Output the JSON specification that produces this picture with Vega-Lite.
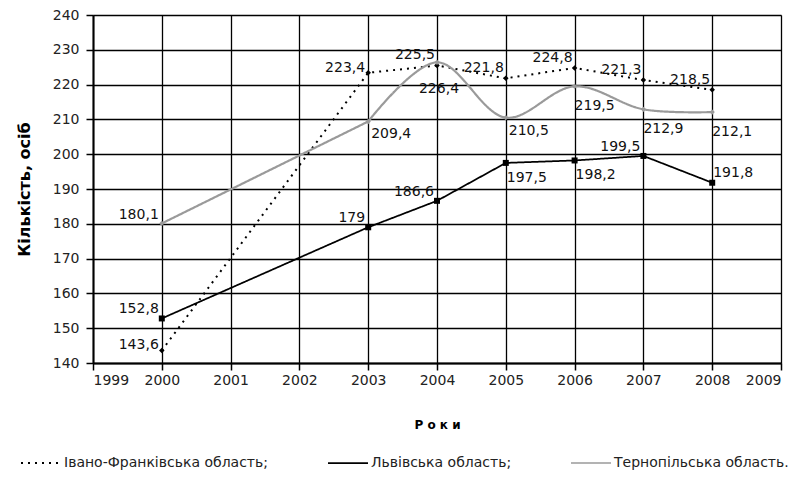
{
  "$schema": "https://vega.github.io/schema/vega-lite/v6.json",
  "autosize": "none",
  "width": 688,
  "height": 348,
  "padding": {"left": 93, "top": 15, "right": 25, "bottom": 114},
  "background": "white",
  "config": {
    "locale": {"number": {"decimal": ",", "thousands": " ", "grouping": [3], "currency": ["", ""]}},
    "view": {"stroke": "#999999", "strokeWidth": 1},
    "font": "DejaVu Sans"
  },
  "data": {
    "values": [
      {"year": 2000, "series": "Івано-Франківська область", "value": 143.6},
      {"year": 2003, "series": "Івано-Франківська область", "value": 223.4},
      {"year": 2004, "series": "Івано-Франківська область", "value": 225.5},
      {"year": 2005, "series": "Івано-Франківська область", "value": 221.8},
      {"year": 2006, "series": "Івано-Франківська область", "value": 224.8},
      {"year": 2007, "series": "Івано-Франківська область", "value": 221.3},
      {"year": 2008, "series": "Івано-Франківська область", "value": 218.5},
      {"year": 2000, "series": "Львівська область", "value": 152.8},
      {"year": 2003, "series": "Львівська область", "value": 179},
      {"year": 2004, "series": "Львівська область", "value": 186.6},
      {"year": 2005, "series": "Львівська область", "value": 197.5},
      {"year": 2006, "series": "Львівська область", "value": 198.2},
      {"year": 2007, "series": "Львівська область", "value": 199.5},
      {"year": 2008, "series": "Львівська область", "value": 191.8},
      {"year": 2000, "series": "Тернопільська область", "value": 180.1},
      {"year": 2003, "series": "Тернопільська область", "value": 209.4},
      {"year": 2004, "series": "Тернопільська область", "value": 226.4},
      {"year": 2005, "series": "Тернопільська область", "value": 210.5},
      {"year": 2006, "series": "Тернопільська область", "value": 219.5},
      {"year": 2007, "series": "Тернопільська область", "value": 212.9},
      {"year": 2008, "series": "Тернопільська область", "value": 212.1}
    ]
  },
  "encoding": {
    "x": {
      "field": "year", "type": "quantitative",
      "scale": {"domain": [1999, 2009], "nice": false, "zero": false},
      "axis": {
        "values": [1999, 2000, 2001, 2002, 2003, 2004, 2005, 2006, 2007, 2008, 2009],
        "format": "d", "title": "Р о к и",
        "titleFont": "DejaVu Sans", "titleFontSize": 12, "titleFontWeight": "bold", "titleColor": "black",
        "titlePadding": 32,
        "labelFont": "DejaVu Sans", "labelFontSize": 14, "labelColor": "#222", "labelPadding": 3,
        "tickSize": 7, "tickColor": "black", "tickWidth": 1.5,
        "domainColor": "black", "domainWidth": 2,
        "grid": true, "gridColor": "black", "gridWidth": 1.3, "gridOpacity": 1
      }
    },
    "y": {
      "field": "value", "type": "quantitative",
      "scale": {"domain": [140, 240], "nice": false, "zero": false},
      "axis": {
        "values": [140, 150, 160, 170, 180, 190, 200, 210, 220, 230, 240],
        "title": "Кількість, осіб",
        "titleFont": "DejaVu Sans", "titleFontSize": 16, "titleFontWeight": "bold", "titleColor": "black",
        "titlePadding": 20,
        "labelFont": "DejaVu Sans", "labelFontSize": 14, "labelColor": "#222", "labelPadding": 7,
        "tickSize": 7, "tickColor": "black", "tickWidth": 1.5,
        "domainColor": "black", "domainWidth": 2,
        "grid": true, "gridColor": "black", "gridWidth": 1.3, "gridOpacity": 1
      }
    }
  },
  "layer": [
    {
      "mark": {"type": "line", "interpolate": "linear"},
      "transform": [{"filter": "datum.series != 'Тернопільська область'"}],
      "encoding": {
        "color": {
          "field": "series", "type": "nominal",
          "scale": {"domain": ["Івано-Франківська область", "Львівська область", "Тернопільська область"], "range": ["#000000", "#000000", "#9a9a9a"]},
          "legend": {
            "title": null, "orient": "none", "direction": "horizontal", "columns": 3,
            "legendX": -73, "legendY": 427,
            "symbolType": "stroke", "symbolSize": 1600, "symbolStrokeWidth": 2,
            "labelFont": "DejaVu Sans", "labelFontSize": 14, "labelColor": "#222", "labelOffset": 2,
            "columnPadding": 56, "labelLimit": 400,
            "labelExpr": "datum.label + (datum.label == 'Тернопільська область' ? '.' : ';')"
          }
        },
        "strokeDash": {
          "field": "series", "type": "nominal",
          "scale": {"domain": ["Івано-Франківська область", "Львівська область", "Тернопільська область"], "range": [[2, 5], [1, 0], [1, 0]]},
          "legend": {
            "title": null, "orient": "none", "direction": "horizontal", "columns": 3,
            "legendX": -73, "legendY": 427,
            "symbolType": "stroke", "symbolSize": 1600, "symbolStrokeWidth": 2,
            "labelFont": "DejaVu Sans", "labelFontSize": 14, "labelColor": "#222", "labelOffset": 2,
            "columnPadding": 56, "labelLimit": 400,
            "labelExpr": "datum.label + (datum.label == 'Тернопільська область' ? '.' : ';')"
          }
        },
        "strokeWidth": {
          "field": "series", "type": "nominal",
          "scale": {"domain": ["Івано-Франківська область", "Львівська область", "Тернопільська область"], "range": [2, 1.5, 2.2]},
          "legend": null
        }
      }
    },
    {
      "mark": {"type": "line", "interpolate": "linear", "strokeWidth": 2.2},
      "transform": [{"filter": "datum.series == 'Тернопільська область' && datum.year <= 2003"}],
      "encoding": {
        "color": {"field": "series", "type": "nominal"},
        "strokeDash": {"field": "series", "type": "nominal"}
      }
    },
    {
      "mark": {"type": "line", "interpolate": "catmull-rom", "strokeWidth": 2.2},
      "transform": [{"filter": "datum.series == 'Тернопільська область' && datum.year >= 2003"}],
      "encoding": {
        "color": {"field": "series", "type": "nominal"},
        "strokeDash": {"field": "series", "type": "nominal"}
      }
    },
    {
      "mark": {"type": "point", "shape": "diamond", "filled": true, "opacity": 1, "strokeWidth": 0, "size": 30, "color": "#000000"},
      "transform": [{"filter": "datum.series == 'Івано-Франківська область'"}]
    },
    {
      "mark": {"type": "point", "shape": "square", "filled": true, "opacity": 1, "strokeWidth": 0, "size": 36, "color": "#000000"},
      "transform": [{"filter": "datum.series == 'Львівська область'"}]
    },
    {
      "mark": {"type": "point", "shape": "diamond", "filled": true, "opacity": 1, "strokeWidth": 0, "size": 28, "color": "#9a9a9a"},
      "transform": [{"filter": "datum.series == 'Тернопільська область'"}]
    },
    {
      "mark": {"type": "text", "font": "DejaVu Sans", "fontSize": 14, "color": "#111", "align": "right", "baseline": "middle", "dx": -3, "dy": -5},
      "transform": [{"filter": "datum.series == 'Івано-Франківська область' && (datum.year == 2000 || datum.year == 2003)"}],
      "encoding": {"text": {"field": "value", "type": "quantitative", "format": "~r"}}
    },
    {
      "mark": {"type": "text", "font": "DejaVu Sans", "fontSize": 14, "color": "#111", "align": "right", "baseline": "middle", "dx": -2, "dy": -10},
      "transform": [{"filter": "datum.series == 'Івано-Франківська область' && datum.year > 2003"}],
      "encoding": {"text": {"field": "value", "type": "quantitative", "format": "~r"}}
    },
    {
      "mark": {"type": "text", "font": "DejaVu Sans", "fontSize": 14, "color": "#111", "align": "right", "baseline": "middle", "dx": -3, "dy": -9},
      "transform": [{"filter": "datum.series == 'Львівська область' && (datum.year == 2000 || datum.year == 2003 || datum.year == 2004 || datum.year == 2007)"}],
      "encoding": {"text": {"field": "value", "type": "quantitative", "format": "~r"}}
    },
    {
      "mark": {"type": "text", "font": "DejaVu Sans", "fontSize": 14, "color": "#111", "align": "left", "baseline": "middle", "dx": 1, "dy": 15},
      "transform": [{"filter": "datum.series == 'Львівська область' && (datum.year == 2005 || datum.year == 2006)"}],
      "encoding": {"text": {"field": "value", "type": "quantitative", "format": "~r"}}
    },
    {
      "mark": {"type": "text", "font": "DejaVu Sans", "fontSize": 14, "color": "#111", "align": "left", "baseline": "middle", "dx": 1, "dy": -10},
      "transform": [{"filter": "datum.series == 'Львівська область' && datum.year == 2008"}],
      "encoding": {"text": {"field": "value", "type": "quantitative", "format": "~r"}}
    },
    {
      "mark": {"type": "text", "font": "DejaVu Sans", "fontSize": 14, "color": "#111", "align": "right", "baseline": "middle", "dx": -3, "dy": -8},
      "transform": [{"filter": "datum.series == 'Тернопільська область' && datum.year == 2000"}],
      "encoding": {"text": {"field": "value", "type": "quantitative", "format": "~r"}}
    },
    {
      "mark": {"type": "text", "font": "DejaVu Sans", "fontSize": 14, "color": "#111", "align": "left", "baseline": "middle", "dx": 3, "dy": 13},
      "transform": [{"filter": "datum.series == 'Тернопільська область' && (datum.year == 2003 || datum.year == 2005)"}],
      "encoding": {"text": {"field": "value", "type": "quantitative", "format": "~r"}}
    },
    {
      "mark": {"type": "text", "font": "DejaVu Sans", "fontSize": 14, "color": "#111", "align": "center", "baseline": "middle", "dx": 2, "dy": 27},
      "transform": [{"filter": "datum.series == 'Тернопільська область' && datum.year == 2004"}],
      "encoding": {"text": {"field": "value", "type": "quantitative", "format": "~r"}}
    },
    {
      "mark": {"type": "text", "font": "DejaVu Sans", "fontSize": 14, "color": "#111", "align": "left", "baseline": "middle", "dx": 0, "dy": 20},
      "transform": [{"filter": "datum.series == 'Тернопільська область' && datum.year >= 2006"}],
      "encoding": {"text": {"field": "value", "type": "quantitative", "format": "~r"}}
    }
  ]
}
